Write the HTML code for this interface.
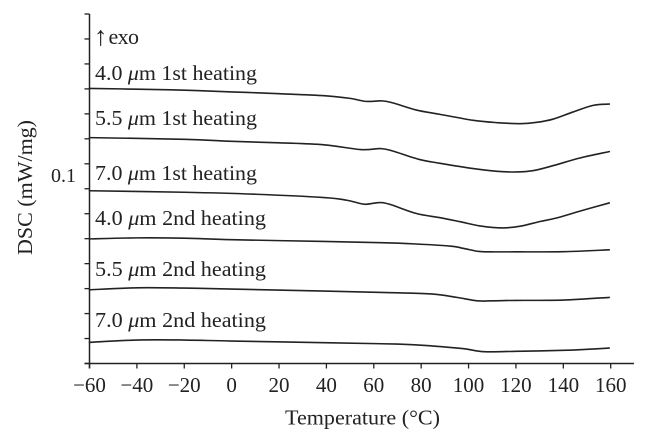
<!DOCTYPE html>
<html>
<head>
<meta charset="utf-8">
<style>
html,body{margin:0;padding:0;background:#fff;}
svg{display:block;}
text{font-family:"Liberation Serif",serif;fill:#222;}
</style>
</head>
<body>
<svg id="chart" width="648" height="444" viewBox="0 0 648 444" xmlns="http://www.w3.org/2000/svg">
  <rect x="0" y="0" width="648" height="444" fill="#fff"/>
  <g id="axes"></g>
  <g id="series"></g>
  <text transform="translate(32,255) rotate(-90)" font-size="21" textLength="135" lengthAdjust="spacingAndGlyphs">DSC (mW/mg)</text>
  <text x="285" y="424.5" font-size="21" textLength="155" lengthAdjust="spacingAndGlyphs">Temperature (°C)</text>
  <text x="51" y="182" font-size="20.5" textLength="25" lengthAdjust="spacingAndGlyphs">0.1</text>
  <text x="94" y="45" font-size="27">↑</text>
  <text x="108.5" y="44" font-size="22" textLength="30.5" lengthAdjust="spacing">exo</text>
  <text x="95" y="80" font-size="21" textLength="162" lengthAdjust="spacingAndGlyphs">4.0 <tspan font-style="italic">μ</tspan>m 1st heating</text>
  <text x="95" y="125" font-size="21" textLength="162" lengthAdjust="spacingAndGlyphs">5.5 <tspan font-style="italic">μ</tspan>m 1st heating</text>
  <text x="95" y="180" font-size="21" textLength="162" lengthAdjust="spacingAndGlyphs">7.0 <tspan font-style="italic">μ</tspan>m 1st heating</text>
  <text x="95" y="225" font-size="21" textLength="171" lengthAdjust="spacingAndGlyphs">4.0 <tspan font-style="italic">μ</tspan>m 2nd heating</text>
  <text x="95" y="276" font-size="21" textLength="171" lengthAdjust="spacingAndGlyphs">5.5 <tspan font-style="italic">μ</tspan>m 2nd heating</text>
  <text x="95" y="327" font-size="21" textLength="171" lengthAdjust="spacingAndGlyphs">7.0 <tspan font-style="italic">μ</tspan>m 2nd heating</text>
</svg>
<script>
// Tick values
const xTicks = [-60,-40,-20,0,20,40,60,80,100,120,140,160];
const yTicks = [0,25,50,75,100,125,150,175,200,225,250,275,300,325,350];

// Series: temperatures (°C) and signal (arbitrary, 0.001 mW/mg, stacked offset)
const t1 = [-60,-40,-20,0,20,39,50,56.6,63.5,68,78,88,102,112,121.8,128.8,135.8,144,152.6,159.4];
const s1 = [275.5,274.7,273.7,272,270.2,268.2,265.5,262.5,263,261,253.8,249.5,243.5,241.2,240.2,241.5,244.8,251.8,258.5,259.8];

const t2 = [-60,-20,0,20,39,54.5,63,68,79,88,102,112,120.4,127.4,135.8,147,159.4];
const s2 = [226.2,224.5,222.5,221,219,214.2,215.2,212.8,204.5,200.5,195.2,192.5,191.8,193.2,198.2,205.8,212.2];

const t3 = [-60,-20,10,39,48.7,56,62.3,67,78,88,96.4,104.8,114.6,121.8,130.2,137.3,148.3,159.4];
const s3 = [173,171.5,169.5,166.2,163.5,159.5,161.2,159.2,150.2,146,142,137.8,135.8,137.5,142.2,145.8,153.5,160.8];

const t4 = [-60,-40,-20,0,39,63,77,92.5,98,104.4,110,120,140,159.4];
const s4 = [124.8,125.8,125.5,124,122.2,121,119.8,117.5,115.2,112.2,111.8,111.8,112,113.8];

const t5 = [-60,-40,-20,0,39,70,85,95,103.6,110,120,140,159.4];
const s5 = [73.8,75.8,75.5,74.5,72.5,70.8,69.5,66.2,62.8,62.8,63.2,63.5,66.2];

const t6 = [-60,-40,-20,0,39,70,85,98,106.6,120,140,150,159.4];
const s6 = [21.2,23.5,23.5,22.5,20.8,19.5,17.5,14.8,11.8,12.2,13.2,14.2,15.5];

const SVGNS = 'http://www.w3.org/2000/svg';
const INK = '#222';
const xScale = v => 89.5 + (v + 60) * (521.2 / 220);
const yScale = v => 363.5 - v * (349.5 / 350);

function make(tag, attrs) {
  const el = document.createElementNS(SVGNS, tag);
  for (const k in attrs) el.setAttribute(k, attrs[k]);
  return el;
}

function smoothPath(xs, ys) {
  const p = xs.map((x, i) => [xScale(x), yScale(ys[i])]);
  let d = 'M' + p[0][0].toFixed(2) + ' ' + p[0][1].toFixed(2);
  for (let i = 0; i < p.length - 1; i++) {
    const a = p[Math.max(i - 1, 0)], b = p[i], c = p[i + 1], e = p[Math.min(i + 2, p.length - 1)];
    const c1x = b[0] + (c[0] - a[0]) / 6, c1y = b[1] + (c[1] - a[1]) / 6;
    const c2x = c[0] - (e[0] - b[0]) / 6, c2y = c[1] - (e[1] - b[1]) / 6;
    d += 'C' + c1x.toFixed(2) + ' ' + c1y.toFixed(2) + ' ' + c2x.toFixed(2) + ' ' + c2y.toFixed(2) + ' ' + c[0].toFixed(2) + ' ' + c[1].toFixed(2);
  }
  return d;
}

const axes = document.getElementById('axes');

const yLine = make('line', {x1: xScale(-60), x2: xScale(-60), y1: yScale(350), y2: yScale(0) + 5, stroke: INK, 'stroke-width': 1.5});


axes.appendChild(yLine);

const xLine = make('line', {x1: xScale(-60) - 5, x2: 634, y1: yScale(0), y2: yScale(0), stroke: INK, 'stroke-width': 1.5});


axes.appendChild(xLine);

yTicks.forEach(v => {
  const tick = make('line', {x1: xScale(-60) - 5, x2: xScale(-60), y1: yScale(v), y2: yScale(v), stroke: INK, 'stroke-width': 1.3});
  
  
  axes.appendChild(tick);
});

xTicks.forEach(v => {
  const tick = make('line', {x1: xScale(v), x2: xScale(v), y1: yScale(0), y2: yScale(0) + 5, stroke: INK, 'stroke-width': 1.3});
  
  
  axes.appendChild(tick);
  const label = make('text', {x: xScale(v), y: 392, 'font-size': 21, 'text-anchor': 'middle'});
  label.textContent = v < 0 ? '\u2212' + Math.abs(v) : String(v);
  
  
  axes.appendChild(label);
});

const seriesGroup = document.getElementById('series');
function drawSeries(xs, ys, name) {
  const path = make('path', {d: smoothPath(xs, ys), fill: 'none', stroke: INK, 'stroke-width': 1.6, 'stroke-linecap': 'round'});
  
  
  seriesGroup.appendChild(path);
}
drawSeries(t1, s1, 'curve-4-0-um-1st-heating');
drawSeries(t2, s2, 'curve-5-5-um-1st-heating');
drawSeries(t3, s3, 'curve-7-0-um-1st-heating');
drawSeries(t4, s4, 'curve-4-0-um-2nd-heating');
drawSeries(t5, s5, 'curve-5-5-um-2nd-heating');
drawSeries(t6, s6, 'curve-7-0-um-2nd-heating');
</script>
</body>
</html>
